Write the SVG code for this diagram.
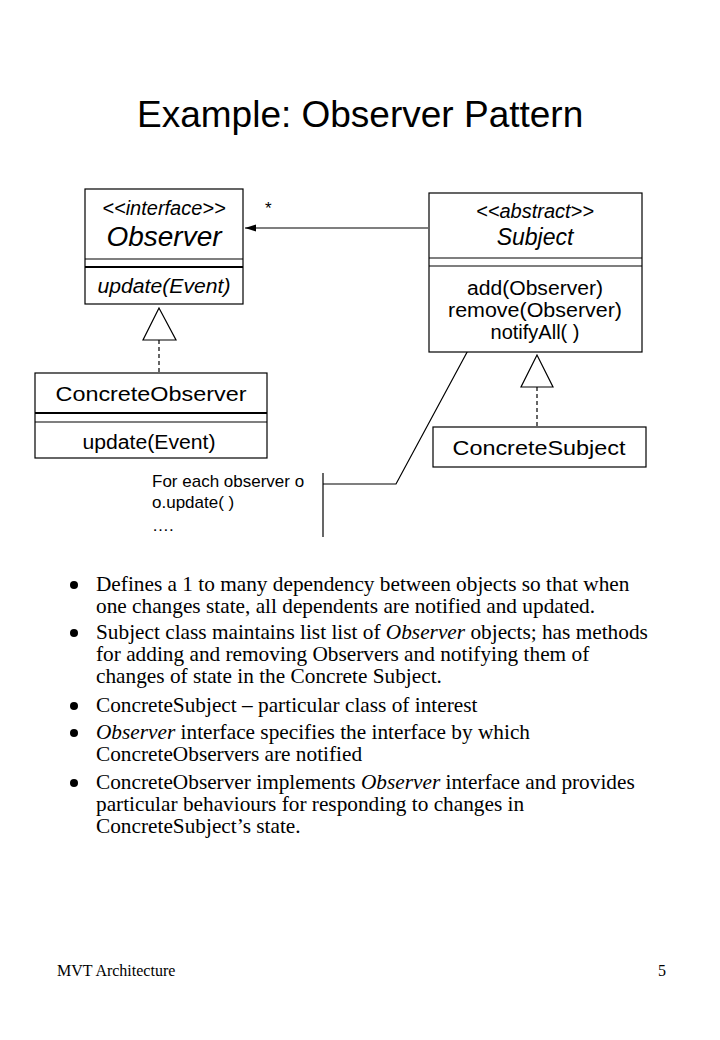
<svg xmlns="http://www.w3.org/2000/svg" width="720" height="1040" viewBox="0 0 720 1040">
<style>
.box{fill:#fff;stroke:#000;stroke-width:1.2}
.ln{fill:none;stroke:#000;stroke-width:1.2}
.thick{fill:none;stroke:#000;stroke-width:2.2}
.dash{fill:none;stroke:#000;stroke-width:1.2;stroke-dasharray:4 3}
.tri{fill:#fff;stroke:#000;stroke-width:1.2}
.sans{font-family:"Liberation Sans",Arial,sans-serif;fill:#000}
.serif{font-family:"Liberation Serif","Times New Roman",serif;fill:#000}
.it{font-style:italic}
.c{text-anchor:middle}
</style>
<defs>
<marker id="arr" markerWidth="12" markerHeight="8" refX="11" refY="4" orient="auto" markerUnits="userSpaceOnUse">
<path d="M0,0.5 L11,4 L0,7.5 Z" fill="#000"/>
</marker>
</defs>
<rect width="720" height="1040" fill="#fff"/>
<text class="sans" x="137" y="127" font-size="37">Example: Observer Pattern</text>

<g id="connectors">
<line class="ln" x1="428" y1="228" x2="245" y2="228" marker-end="url(#arr)"/>
<text class="sans" x="265" y="214" font-size="17">*</text>
<polygon class="tri" points="159,308 143,340 176,340"/>
<line class="dash" x1="159" y1="340" x2="159" y2="373"/>
<polygon class="tri" points="537,355 521,387 553,387"/>
<line class="dash" x1="537" y1="387" x2="537" y2="427"/>
<polyline class="ln" points="472,343 396,484 323,484"/>
<line class="ln" x1="323" y1="473" x2="323" y2="537"/>
</g>

<g id="observer">
<rect class="box" x="85" y="189" width="158" height="115"/>
<line class="ln" x1="85" y1="259" x2="243" y2="259"/>
<line class="thick" x1="85" y1="267" x2="243" y2="267"/>
<text class="sans it c" x="164" y="215" font-size="20">&lt;&lt;interface&gt;&gt;</text>
<text class="sans it c" x="164" y="246" font-size="28">Observer</text>
<text class="sans it c" x="164" y="293" font-size="20" textLength="133" lengthAdjust="spacingAndGlyphs">update(Event)</text>
</g>

<g id="subject">
<rect class="box" x="429" y="193" width="213" height="159"/>
<line class="ln" x1="429" y1="258" x2="642" y2="258"/>
<line class="ln" x1="429" y1="266" x2="642" y2="266"/>
<text class="sans it c" x="535" y="218" font-size="20">&lt;&lt;abstract&gt;&gt;</text>
<text class="sans it c" x="535" y="245" font-size="23">Subject</text>
<text class="sans c" x="535" y="295" font-size="20" textLength="136" lengthAdjust="spacingAndGlyphs">add(Observer)</text>
<text class="sans c" x="535" y="317" font-size="20" textLength="174" lengthAdjust="spacingAndGlyphs">remove(Observer)</text>
<text class="sans c" x="535" y="339" font-size="20">notifyAll( )</text>
</g>

<g id="concrete-observer">
<rect class="box" x="35" y="373" width="232" height="85"/>
<line class="thick" x1="35" y1="413" x2="267" y2="413"/>
<line class="ln" x1="35" y1="422" x2="267" y2="422"/>
<text class="sans c" x="151" y="401" font-size="21" textLength="191" lengthAdjust="spacingAndGlyphs">ConcreteObserver</text>
<text class="sans c" x="149" y="449" font-size="20" textLength="133" lengthAdjust="spacingAndGlyphs">update(Event)</text>
</g>

<g id="concrete-subject">
<rect class="box" x="433" y="427" width="213" height="40"/>
<text class="sans c" x="539" y="455" font-size="21" textLength="173" lengthAdjust="spacingAndGlyphs">ConcreteSubject</text>
</g>

<g id="note">
<text class="sans" x="152" y="487" font-size="17">For each observer o</text>
<text class="sans" x="152" y="508" font-size="17">o.update( )</text>
<text class="sans" x="152" y="531" font-size="17">….</text>
</g>

<g id="bullets" class="serif" font-size="20">
<circle cx="74" cy="585" r="4"/>
<circle cx="74" cy="633" r="4"/>
<circle cx="74" cy="706" r="4"/>
<circle cx="74" cy="733" r="4"/>
<circle cx="74" cy="783" r="4"/>
<g transform="translate(96,0) scale(1.065,1) translate(-96,0)">
<text x="96" y="591">Defines a 1 to many dependency between objects so that when</text>
<text x="96" y="613">one changes state, all dependents are notified and updated.</text>
<text x="96" y="639">Subject class maintains list list of <tspan font-style="italic">Observer</tspan> objects; has methods</text>
<text x="96" y="661">for adding and removing Observers and notifying them of</text>
<text x="96" y="683">changes of state in the Concrete Subject.</text>
<text x="96" y="712">ConcreteSubject – particular class of interest</text>
<text x="96" y="739"><tspan font-style="italic">Observer</tspan> interface specifies the interface by which</text>
<text x="96" y="761">ConcreteObservers are notified</text>
<text x="96" y="789">ConcreteObserver implements <tspan font-style="italic">Observer</tspan> interface and provides</text>
<text x="96" y="811">particular behaviours for responding to changes in</text>
<text x="96" y="833">ConcreteSubject’s state.</text>
</g>
</g>

<g id="footer" class="serif" font-size="16">
<text x="57" y="976">MVT Architecture</text>
<text x="658" y="976">5</text>
</g>
</svg>
